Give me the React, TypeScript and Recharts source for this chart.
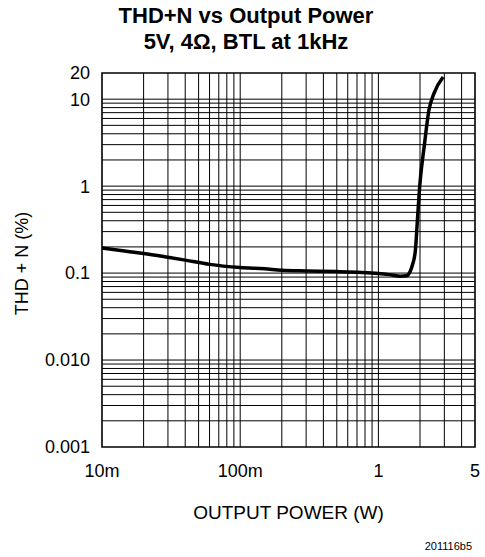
import { LineChart, Line, XAxis, YAxis, CartesianGrid, ReferenceArea } from 'recharts';

// output power in watts, THD+N in percent (5V, 4 ohm, BTL, 1kHz)
const powerW = [0.01, 0.015, 0.02, 0.03, 0.04, 0.06, 0.1, 0.15, 0.2, 0.3, 0.5, 0.7, 1.0, 1.2, 1.45, 1.6, 1.7, 1.76, 1.85, 1.92, 1.99, 2.15, 2.32, 2.52, 2.94];
const thdPct = [0.195, 0.178, 0.168, 0.152, 0.141, 0.126, 0.116, 0.112, 0.108, 0.106, 0.104, 0.102, 0.099, 0.096, 0.092, 0.093, 0.105, 0.123, 0.18, 0.43, 1.0, 2.95, 7.45, 11.6, 18];

const xTicks = [0.01, 0.1, 1, 5];
const xTickLabels = ['10m', '100m', '1', '5'];
const yTicks = [0.001, 0.01, 0.1, 1, 10, 20];
const yTickLabels = ['0.001', '0.010', '0.1', '1', '10', '20'];

// log grid lines
const xGrid = [0.02, 0.03, 0.04, 0.05, 0.06, 0.07, 0.08, 0.09, 0.1, 0.2, 0.3, 0.4, 0.5, 0.6, 0.7, 0.8, 0.9, 1, 2, 3, 4];
const yGrid = [0.002, 0.003, 0.004, 0.005, 0.006, 0.007, 0.008, 0.009, 0.01, 0.02, 0.03, 0.04, 0.05, 0.06, 0.07, 0.08, 0.09, 0.1, 0.2, 0.3, 0.4, 0.5, 0.6, 0.7, 0.8, 0.9, 1, 2, 3, 4, 5, 6, 7, 8, 9, 10];

const FONT = '"Liberation Sans", Arial, Helvetica, sans-serif';

const data = powerW.map((p, i) => ({ power: p, thd: thdPct[i] }));

const YLabel = (props: any) => {
    const vb = props.viewBox || { x: 0, y: 73, width: 102, height: 374 };
    const x = vb.x + 28;
    const y = vb.y + vb.height / 2 + 3.5;
    return (
        <text x={x} y={y} transform={`rotate(-90, ${x}, ${y})`} textAnchor="middle" fontFamily={FONT} fontSize={18} fill="#000">
            THD + N (%)
        </text>
    );
};

const XLabel = (props: any) => {
    const vb = props.viewBox || { x: 102, y: 447, width: 373, height: 110 };
    return (
        <text x={vb.x + vb.width / 2} y={vb.y + 72} textAnchor="middle" fontFamily={FONT} fontSize={19} fill="#000">
            OUTPUT POWER (W)
        </text>
    );
};

export default function App() {
    return (
        <div style={{ position: 'absolute', left: 0, top: 0, width: 485, height: 557, background: '#fff', fontFamily: FONT }}>
            <div style={{ position: 'absolute', left: 0, top: 3, width: 492, textAlign: 'center', fontWeight: 'bold', fontSize: 22, lineHeight: '26px', color: '#000' }}>
                <div>THD+N vs Output Power</div>
                <div>5V, 4Ω, BTL at 1kHz</div>
            </div>
            <LineChart
                width={485}
                height={557}
                data={data}
                margin={{ top: 73, right: 10, bottom: 0, left: 0 }}
            >
                <CartesianGrid
                    horizontalValues={yGrid}
                    verticalValues={xGrid}
                    stroke="#000"
                    strokeWidth={1}
                    fill="none"
                />
                <XAxis
                    dataKey="power"
                    type="number"
                    scale="log"
                    domain={[0.01, 5]}
                    allowDataOverflow
                    ticks={xTicks}
                    tickFormatter={(v: number) => xTickLabels[xTicks.indexOf(v)] ?? String(v)}
                    tick={{ fill: '#000', fontSize: 18, fontFamily: FONT }}
                    tickLine={false}
                    axisLine={false}
                    tickSize={0}
                    tickMargin={17}
                    height={110}
                    interval={0}
                    label={<XLabel />}
                />
                <YAxis
                    type="number"
                    scale="log"
                    domain={[0.001, 20]}
                    allowDataOverflow
                    ticks={yTicks}
                    tickFormatter={(v: number) => yTickLabels[yTicks.indexOf(v)] ?? String(v)}
                    tick={{ fill: '#000', fontSize: 18, fontFamily: FONT }}
                    tickLine={false}
                    axisLine={false}
                    tickSize={0}
                    tickMargin={12}
                    width={102}
                    interval={0}
                    label={<YLabel />}
                />
                <ReferenceArea x1={0.01} x2={5} y1={0.001} y2={20} fill="none" stroke="#000" strokeWidth={1.6} ifOverflow="visible" />
                <Line
                    dataKey="thd"
                    type="monotone"
                    stroke="#000"
                    strokeWidth={3.5}
                    dot={false}
                    activeDot={false}
                    isAnimationActive={false}
                />
            </LineChart>
            <div style={{ position: 'absolute', right: 13, top: 541, fontSize: 11, lineHeight: '11px', color: '#000' }}>
                201116b5
            </div>
        </div>
    );
}
